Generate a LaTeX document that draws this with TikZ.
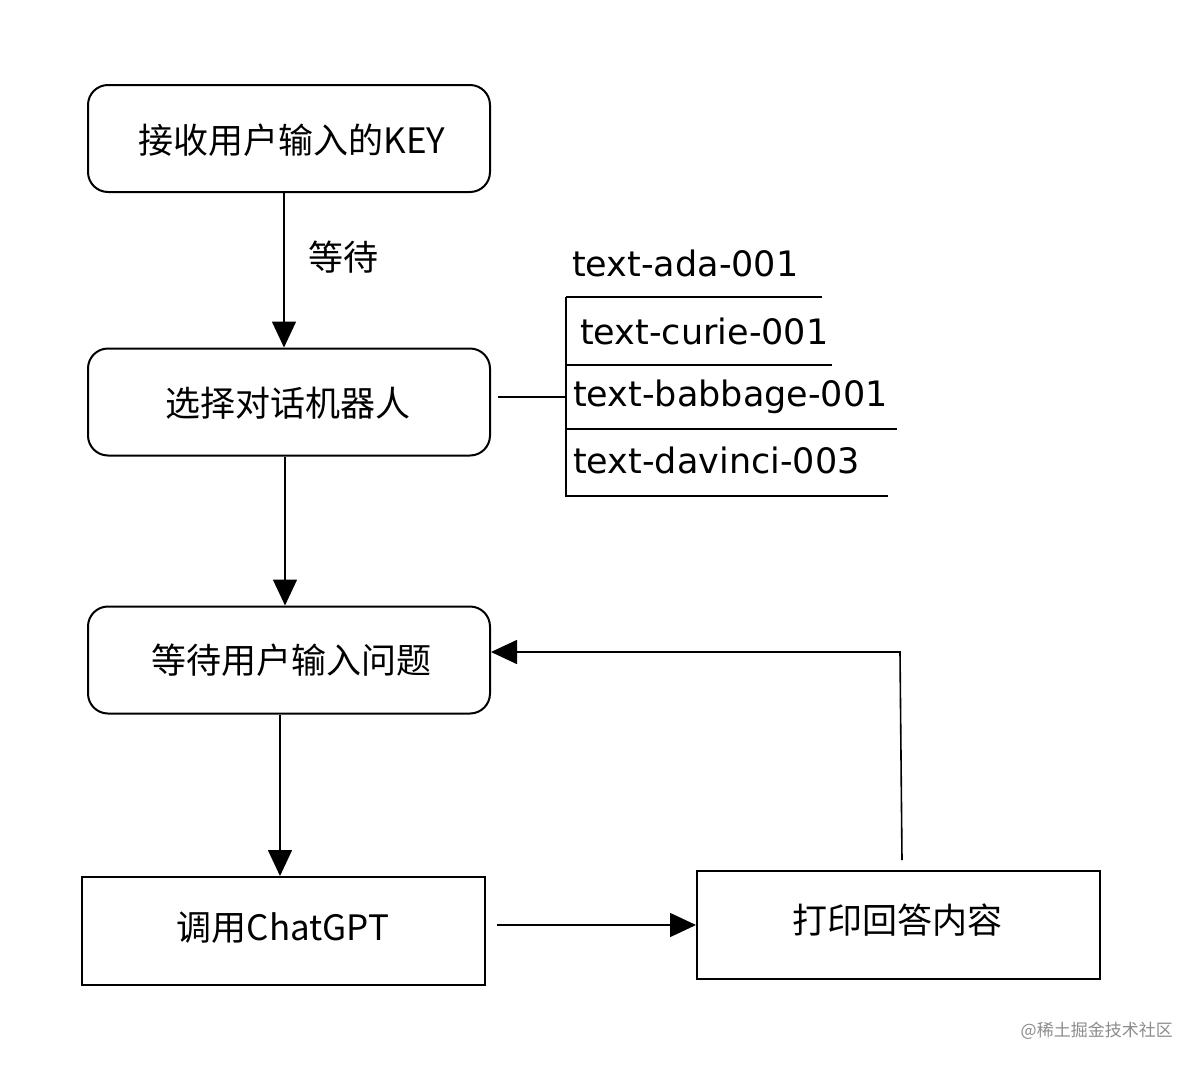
\documentclass[tikz,border=0pt]{standalone}
\usepackage{fontspec}
\setmainfont{Noto Sans CJK SC}
\newfontfamily\latinhand{DejaVu Sans}
\usetikzlibrary{arrows.meta}
\begin{document}
\begin{tikzpicture}[x=1pt,y=-1pt,
  rbox/.style={draw=black,line width=2pt,rounded corners=20pt,minimum width=402pt,minimum height=107pt,inner sep=0pt},
  sbox/.style={draw=black,line width=2pt,minimum width=403pt,minimum height=108pt,inner sep=0pt},
  lbl/.style={font=\fontsize{35}{38}\selectfont},
  mdl/.style={font=\latinhand\fontsize{35}{38}\selectfont,anchor=west,inner sep=0pt},
  conn/.style={line width=1.6pt},
  arr/.style={conn,-{Triangle[length=26pt,width=24pt]}},
]
\useasboundingbox (0,0) rectangle (1200,1068);
\fill[white] (0,0) rectangle (1200,1068);

\node[rbox] (b1) at (289,138.5) {};
\node[lbl] (t1) at (292,140) {接收用户输入的KEY};
\node[rbox] (b2) at (289,402) {};
\node[lbl] (t2) at (288,403) {选择对话机器人};
\node[rbox] (b3) at (289,660) {};
\node[lbl] (t3) at (291,660) {等待用户输入问题};
\node[sbox] (b4) at (283.5,931) {};
\node[lbl] (t4) at (283,928) {调用ChatGPT};
\node[sbox] (b5) at (898.5,925) {};
\node[lbl] (t5) at (897,920) {打印回答内容};

\node[lbl] (wait) at (343,257) {等待};

\coordinate (xa) at (284,0);
\coordinate (xb) at (285,0);
\coordinate (xc) at (280,0);
\coordinate (ya) at (497,925);
\draw[arr] (b1.south -| xa) -- (b2.north -| xa);
\draw[arr] (b2.south -| xb) -- (b3.north -| xb);
\draw[arr] (b3.south -| xc) -- (b4.north -| xc);
\draw[arr] (ya) -- (b5.west |- ya);

\coordinate (lp1) at (902,860);
\coordinate (lp2) at (900,652);
\draw[arr] (lp1) -- (lp2) -- (b3.east |- lp2);

% model list
\coordinate (tee) at (566,397);
\coordinate (teeL) at (498,397);
\draw[conn] (teeL) -- (tee);
\coordinate (vtop) at (566,297);
\coordinate (vbot) at (566,497);
\draw[conn] (vtop) -- (vbot);
\coordinate (h1) at (822,297);
\coordinate (h2a) at (566,365);
\coordinate (h2) at (832,365);
\coordinate (h3a) at (566,429);
\coordinate (h3) at (897,429);
\coordinate (h4a) at (566,496);
\coordinate (h4) at (888,496);
\draw[conn] (vtop) -- (h1);
\draw[conn] (h2a) -- (h2);
\draw[conn] (h3a) -- (h3);
\draw[conn] (h4a) -- (h4);
\node[mdl] (m1) at (572,263) {text-ada-001};
\node[mdl] (m2) at (580,331) {text-curie-001};
\node[mdl] (m3) at (573,397) {text-babbage-001};
\node[mdl] (m4) at (573,460) {text-davinci-003};

\node[font=\fontsize{17}{19}\selectfont,text=black!45,anchor=east,inner sep=0pt] (wm) at (1173,1031) {@稀土掘金技术社区};
\end{tikzpicture}
\end{document}
